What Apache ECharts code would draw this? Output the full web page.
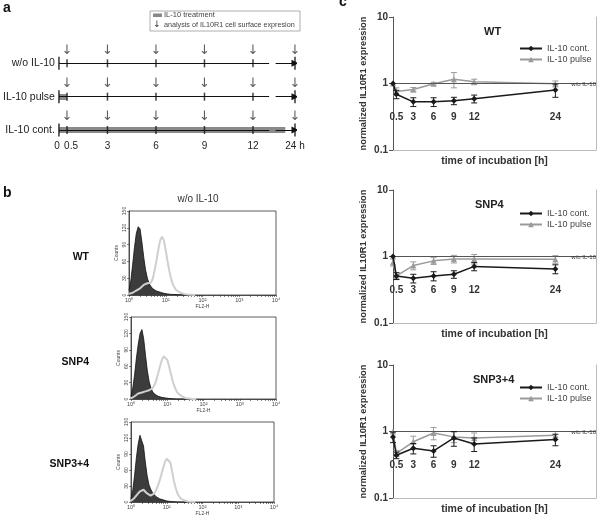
<!DOCTYPE html>
<html><head><meta charset="utf-8">
<script src="https://cdn.jsdelivr.net/npm/echarts@6/dist/echarts.min.js"></script>
<style>html,body{margin:0;padding:0;background:#fff}#c{width:600px;height:521px}</style>
</head><body><div id="c"></div>
<script>
// ---------- panel a : schedule ----------
const timePoints = [0.5, 3, 6, 9, 12];
const timeEnds = [0, 24];
const arrowTimes = [0.5, 3, 6, 9, 12, 24];
const timeTickValues = [0, 3, 6, 9, 12, 24];
const timeTickLabels = ['0', '3', '6', '9', '12', '24 h'];
const pulseTickValues = [0.5];
const pulseTickLabels = ['0.5'];
const scheduleRows = ['IL-10 cont.', 'IL-10 pulse', 'w/o IL-10'];
const treatmentEnd = [24, 0.5, 0];
const lineGap = [13, 22.8];
const axisBreak = [13.2, 22.6];

// ---------- panel b : histograms ----------
const histChannels = [1.00,1.12,1.26,1.41,1.58,1.78,2.00,2.24,2.51,2.82,3.16,3.55,3.98,4.47,5.01,5.62,6.31,7.08,7.94,8.91,10.0,11.2,12.6,14.1,15.8,17.8,20.0,22.4,25.1,28.2,31.6,35.5,39.8,44.7,50.1,56.2,63.1];
const histNames = ['WT', 'SNP4', 'SNP3+4'];
const wtIsotype   = [8,25,55,85,110,122,118,95,68,45,30,20,15,11,9,7,6,5,4,3,3,2,2,1,1,1,1,0.5,0.5,0.5,0,0,0,0,0,0,0];
const wtStain     = [2,3,4,6,8,10,12,15,18,20,21,20,22,30,45,62,82,98,104,97,80,60,42,28,18,12,8,6,4,3,2,2,1,1,0.5,0.5,0];
const snp4Isotype = [5,20,45,75,100,120,127,110,80,52,32,20,13,9,7,5,4,3,3,2,2,1,1,0.5,0.5,0,0,0,0,0,0,0,0,0,0,0,0];
const snp4Stain   = [1,3,5,8,10,12,12,13,14,15,16,18,20,26,35,47,60,71,78,79,72,60,46,33,23,15,10,7,5,3,2,1,1,0.5,0,0,0];
const snp34Isotype= [6,22,50,82,108,125,126,105,75,50,33,24,18,14,10,8,6,5,4,3,2,2,1,1,0.5,0.5,0,0,0,0,0,0,0,0,0,0,0];
const snp34Stain  = [2,4,8,12,16,20,22,23,20,16,13,12,13,16,22,30,40,52,64,75,81,82,74,58,40,26,16,10,6,4,3,2,1,1,0.5,0,0];
const histDecades = [1, 10, 100, 1000, 10000];
const histDecadeLabels = ['10\u2070', '10\u00b9', '10\u00b2', '10\u00b3', '10\u2074'];
const histMinorTicks = [2,3,4,5,6,7,8,9,20,30,40,50,60,70,80,90,200,300,400,500,600,700,800,900,2000,3000,4000,5000,6000,7000,8000,9000];

// ---------- panel c : time courses ----------
const incubationTimes = [0, 0.5, 3, 6, 9, 12, 24];
const timeLabelValues = [0.5, 3, 6, 9, 12, 24];
const panelNames = ['WT', 'SNP4', 'SNP3+4'];
const wtCont      = [1.00, 0.69, 0.53, 0.53, 0.55, 0.59, 0.80];
const wtContErr   = [0, 0.10, 0.08, 0.08, 0.07, 0.08, 0.18];
const wtPulse     = [1.00, 0.76, 0.81, 0.99, 1.16, 1.06, 0.99];
const wtPulseErr  = [0, 0.10, 0.06, 0.05, 0.30, 0.10, 0.10];
const snp4Cont    = [1.00, 0.51, 0.47, 0.51, 0.54, 0.71, 0.65];
const snp4ContErr = [0, 0.06, 0.07, 0.08, 0.07, 0.10, 0.10];
const snp4Pulse   = [0.82, 0.51, 0.73, 0.86, 0.92, 0.92, 0.91];
const snp4PulseErr= [0.10, 0.06, 0.10, 0.10, 0.12, 0.15, 0.12];
const snp34Cont   = [0.83, 0.44, 0.56, 0.51, 0.80, 0.65, 0.76];
const snp34ContErr= [0.15, 0.05, 0.10, 0.10, 0.20, 0.15, 0.15];
const snp34Pulse  = [1.00, 0.47, 0.70, 0.95, 0.83, 0.80, 0.88];
const snp34PulseErr=[0, 0.05, 0.15, 0.20, 0.15, 0.15, 0.12];
const baselineValue = 1;
const baselineLabel = 'w/o IL-10';
const seriesNames = ['IL-10 cont.', 'IL-10 pulse'];

const FONT = 'Liberation Sans, Arial, sans-serif';
const chart = echarts.init(document.getElementById('c'), null, {renderer: 'canvas'});

const grids = [], xAxes = [], yAxes = [], series = [], titles = [], legends = [];

// ---- panel a grid
grids.push({left: 58, width: 237, top: 40, height: 100});
function timelineAxis(values, labels, extra) {
  return {gridIndex: 0, type: 'value', min: 0, max: 24, position: 'bottom', offset: 0,
    breaks: [{start: axisBreak[0], end: axisBreak[1], gap: 0}],
    breakArea: {show: false},
    axisLine: {show: false}, axisTick: {show: false}, splitLine: {show: false},
    axisLabel: Object.assign({customValues: values, showMinLabel: true, showMaxLabel: true,
      formatter: v => v === 0 ? '{z|' + labels[values.indexOf(v)] + '}' : labels[values.indexOf(v)],
      rich: {z: {fontSize: 10, color: '#222', fontFamily: FONT, padding: [0, 4, 0, 0]}},
      fontSize: 10, color: '#222', fontFamily: FONT, margin: 1}, extra || {})};
}
xAxes.push(timelineAxis(timeTickValues, timeTickLabels));
yAxes.push({gridIndex: 0, type: 'value', min: -0.3, max: 2.7,
  axisLine: {show: false}, axisTick: {show: false}, splitLine: {show: false},
  axisLabel: {customValues: [0, 1, 2], formatter: v => scheduleRows[v], fontSize: 10.5, color: '#222', fontFamily: FONT, margin: 4}});

const segData = [];
scheduleRows.forEach((r, i) => {
  segData.push({coords: [[0, i], [lineGap[0], i]], symbol: ['none', 'none']});
  segData.push({coords: [[lineGap[1], i], [24, i]], symbol: ['none', 'triangle']});
});
series.push({type: 'lines', coordinateSystem: 'cartesian2d', xAxisIndex: 0, yAxisIndex: 0, silent: true,
  symbolSize: 7, lineStyle: {color: '#111', width: 1, opacity: 1}, data: segData, z: 3});
series.push({type: 'lines', coordinateSystem: 'cartesian2d', xAxisIndex: 0, yAxisIndex: 0, silent: true,
  symbol: ['none', 'none'], lineStyle: {color: '#8a8a8a', width: 6, opacity: 1}, z: 2,
  data: scheduleRows.map((r, i) => treatmentEnd[i] > 0 ? {coords: [[0, i], [treatmentEnd[i] - (treatmentEnd[i] > 12 ? 0.6 : 0), i]]} : null).filter(Boolean)});
const tickPts = [], endPts = [], arrowPts = [];
scheduleRows.forEach((r, i) => {
  timePoints.forEach(t => tickPts.push([t, i]));
  timeEnds.forEach(t => endPts.push([t, i]));
  arrowTimes.forEach(t => arrowPts.push([t, i]));
});
series.push({type: 'scatter', xAxisIndex: 0, yAxisIndex: 0, silent: true, symbol: 'rect', symbolSize: [1.5, 8],
  itemStyle: {color: '#111'}, data: tickPts, z: 4});
series.push({type: 'scatter', xAxisIndex: 0, yAxisIndex: 0, silent: true, symbol: 'rect', symbolSize: [1.6, 13],
  itemStyle: {color: '#111'}, data: endPts, z: 4});
series.push({type: 'scatter', xAxisIndex: 0, yAxisIndex: 0, silent: true, symbolSize: 1,
  itemStyle: {color: 'rgba(0,0,0,0)'}, data: arrowPts, z: 4,
  label: {show: true, formatter: '\u2193', position: 'inside', offset: [0, -13], fontSize: 13, color: '#333', fontFamily: 'DejaVu Sans'}});

// ---- panel b histograms
const histBoxes = [
  {left: 129, width: 147, top: 211, height: 84},
  {left: 131, width: 145, top: 317, height: 82},
  {left: 131, width: 143, top: 422, height: 80}];
const histIso = [wtIsotype, snp4Isotype, snp34Isotype];
const histStain = [wtStain, snp4Stain, snp34Stain];
histBoxes.forEach((b, k) => {
  const g = grids.length;
  grids.push(Object.assign({show: true, borderColor: '#333', borderWidth: 0.8, backgroundColor: '#fff'}, b));
  xAxes.push({gridIndex: g, type: 'log', min: 1, max: 10000, logBase: 10,
    name: 'FL2-H', nameLocation: 'middle', nameGap: 8, nameTextStyle: {fontSize: 5, color: '#444', fontFamily: FONT},
    axisLine: {lineStyle: {color: '#333', width: 0.8}},
    axisTick: {customValues: histMinorTicks.concat(histDecades), length: 2, lineStyle: {color: '#333', width: 0.6}},
    splitLine: {show: false},
    axisLabel: {customValues: histDecades, formatter: v => histDecadeLabels[histDecades.indexOf(v)], fontSize: 5.5, color: '#444', margin: 2, fontFamily: FONT}});
  yAxes.push({gridIndex: g, type: 'value', min: 0, max: 150, interval: 30,
    name: 'Counts', nameLocation: 'middle', nameGap: 10, nameTextStyle: {fontSize: 5, color: '#444', fontFamily: FONT},
    axisLine: {show: true, lineStyle: {color: '#333', width: 0.8}},
    axisTick: {show: true, length: 2, lineStyle: {color: '#333', width: 0.6}},
    splitLine: {show: false},
    axisLabel: {rotate: 90, fontSize: 5, color: '#444', margin: 2, fontFamily: FONT}});
  const xi = xAxes.length - 1, yi = yAxes.length - 1;
  series.push({type: 'line', xAxisIndex: xi, yAxisIndex: yi, silent: true, symbol: 'none',
    data: histChannels.map((c, j) => [c, histIso[k][j]]),
    lineStyle: {color: '#111', width: 0.8}, areaStyle: {color: '#3c3c3c', opacity: 1}, z: 2});
  series.push({type: 'line', xAxisIndex: xi, yAxisIndex: yi, silent: true, symbol: 'none',
    data: histChannels.map((c, j) => [c, histStain[k][j]]),
    lineStyle: {color: '#cfcfcf', width: 2}, z: 3});
});

// ---- panel c time courses
const tcTops = [17, 190, 365];
const tcCont = [wtCont, snp4Cont, snp34Cont];
const tcContErr = [wtContErr, snp4ContErr, snp34ContErr];
const tcPulse = [wtPulse, snp4Pulse, snp34Pulse];
const tcPulseErr = [wtPulseErr, snp4PulseErr, snp34PulseErr];
const titleLefts = [479, 470, 468];
const legendTops = [39, 204, 378];

function errSeries(xi, yi, vals, errs, color, z) {
  return {type: 'custom', xAxisIndex: xi, yAxisIndex: yi, silent: true, z: z,
    data: incubationTimes.map((t, i) => [t, vals[i] - errs[i], vals[i] + errs[i], errs[i]]).filter(d => d[3] > 0),
    encode: {x: 0, y: [1, 2]},
    renderItem: (params, api) => {
      const lo = api.coord([api.value(0), api.value(1)]);
      const hi = api.coord([api.value(0), api.value(2)]);
      const w = 3, st = {stroke: color, lineWidth: 1};
      return {type: 'group', children: [
        {type: 'line', shape: {x1: lo[0], y1: lo[1], x2: hi[0], y2: hi[1]}, style: st},
        {type: 'line', shape: {x1: lo[0] - w, y1: lo[1], x2: lo[0] + w, y2: lo[1]}, style: st},
        {type: 'line', shape: {x1: hi[0] - w, y1: hi[1], x2: hi[0] + w, y2: hi[1]}, style: st}]};
    }};
}

tcTops.forEach((top, k) => {
  const g = grids.length;
  grids.push({left: 393, width: 203, top: top, height: 133});
  xAxes.push({gridIndex: g, type: 'value', min: 0, max: 30,
    name: 'time of incubation [h]', nameLocation: 'middle', nameGap: 6,
    nameTextStyle: {fontSize: 10.5, fontWeight: 'bold', color: '#333', fontFamily: FONT, verticalAlign: 'top'},
    axisLine: {show: true, lineStyle: {color: '#bbb', width: 1}},
    axisTick: {show: false}, splitLine: {show: false},
    axisLabel: {customValues: timeLabelValues, inside: true, margin: 28, fontSize: 10, fontWeight: 'bold', color: '#333', fontFamily: FONT}});
  yAxes.push({gridIndex: g, type: 'log', min: 0.1, max: 10, logBase: 10,
    name: 'normalized IL10R1 expression', nameLocation: 'middle', nameGap: 25,
    nameTextStyle: {fontSize: 9.3, fontWeight: 'bold', color: '#333', fontFamily: FONT},
    axisLine: {show: true, lineStyle: {color: '#555', width: 1}},
    axisTick: {show: true, length: 4, lineStyle: {color: '#555'}},
    splitLine: {show: false},
    axisLabel: {fontSize: 10, fontWeight: 'bold', color: '#333', margin: 5, fontFamily: FONT, formatter: v => String(v)}});
  const xi = xAxes.length - 1, yi = yAxes.length - 1;
  yAxes.push({gridIndex: g, type: 'value', position: 'right', min: 0, max: 1,
    axisLine: {show: true, lineStyle: {color: '#bbb', width: 1}}, axisTick: {show: false}, axisLabel: {show: false}, splitLine: {show: false}});
  series.push(errSeries(xi, yi, tcPulse[k], tcPulseErr[k], '#9a9a9a', 3));
  series.push(errSeries(xi, yi, tcCont[k], tcContErr[k], '#1a1a1a', 5));
  series.push({name: seriesNames[1], type: 'line', xAxisIndex: xi, yAxisIndex: yi,
    data: incubationTimes.map((t, i) => [t, tcPulse[k][i]]),
    symbol: 'triangle', symbolSize: 6, itemStyle: {color: '#9a9a9a'}, lineStyle: {color: '#9a9a9a', width: 1.5}, z: 4,
    markLine: {silent: true, symbol: ['none', 'none'], lineStyle: {color: '#555', width: 1, type: 'solid'},
      label: {show: true, position: 'insideEndTop', distance: [0, -4], formatter: baselineLabel, fontSize: 6, color: '#333', fontFamily: FONT},
      data: [{yAxis: baselineValue}]}});
  series.push({name: seriesNames[0], type: 'line', xAxisIndex: xi, yAxisIndex: yi,
    data: incubationTimes.map((t, i) => [t, tcCont[k][i]]),
    symbol: 'diamond', symbolSize: 6, itemStyle: {color: '#1a1a1a'}, lineStyle: {color: '#1a1a1a', width: 1.5}, z: 6});
  titles.push({text: panelNames[k], left: titleLefts[k], top: top + 4,
    textStyle: {fontSize: 11, fontWeight: 'bold', color: '#222', fontFamily: FONT}});
  legends.push({data: seriesNames, orient: 'vertical', left: 514, top: legendTops[k], itemGap: 2,
    itemWidth: 22, itemHeight: 7, textStyle: {fontSize: 9, color: '#444', fontFamily: FONT}, selectedMode: false});
});

// second timeline axis carrying only the 0.5 h label (avoids overlap-hiding with the 0 label)
xAxes.push(timelineAxis(pulseTickValues, pulseTickLabels, {padding: [0, 0, 0, 8]}));

const graphic = [
  {type: 'text', left: 3, top: 1, style: {text: 'a', font: 'bold 14px ' + FONT, fill: '#111'}},
  {type: 'text', left: 3, top: 186, style: {text: 'b', font: 'bold 14px ' + FONT, fill: '#111'}},
  {type: 'text', left: 339, top: -5, style: {text: 'c', font: 'bold 14px ' + FONT, fill: '#111'}},
  {type: 'rect', shape: {x: 150, y: 11, width: 150, height: 20}, style: {fill: '#fff', stroke: '#999', lineWidth: 0.8}},
  {type: 'rect', shape: {x: 153, y: 13.5, width: 9, height: 3.5}, style: {fill: '#888'}},
  {type: 'text', x: 164, y: 15, style: {text: 'IL-10 treatment', font: '7.5px ' + FONT, fill: '#444', verticalAlign: 'middle'}},
  {type: 'text', x: 157, y: 25, style: {text: '\u2193', font: '9px DejaVu Sans', fill: '#333', verticalAlign: 'middle', align: 'center'}},
  {type: 'text', x: 164, y: 25, style: {text: 'analysis of IL10R1 cell surface expresion', font: '7.2px ' + FONT, fill: '#444', verticalAlign: 'middle'}},
  {type: 'text', x: 198, y: 199, style: {text: 'w/o IL-10', font: '10px ' + FONT, fill: '#333', align: 'center', verticalAlign: 'middle'}}
];
histNames.forEach((n, k) => {
  const ys = [257, 362, 464];
  graphic.push({type: 'text', x: 89, y: ys[k], style: {text: n, font: 'bold 10.5px ' + FONT, fill: '#111', align: 'right', verticalAlign: 'middle'}});
});

chart.setOption({
  animation: false,
  backgroundColor: '#fff',
  grid: grids, xAxis: xAxes, yAxis: yAxes, series: series,
  title: titles, legend: legends, graphic: graphic
});
</script></body></html>
